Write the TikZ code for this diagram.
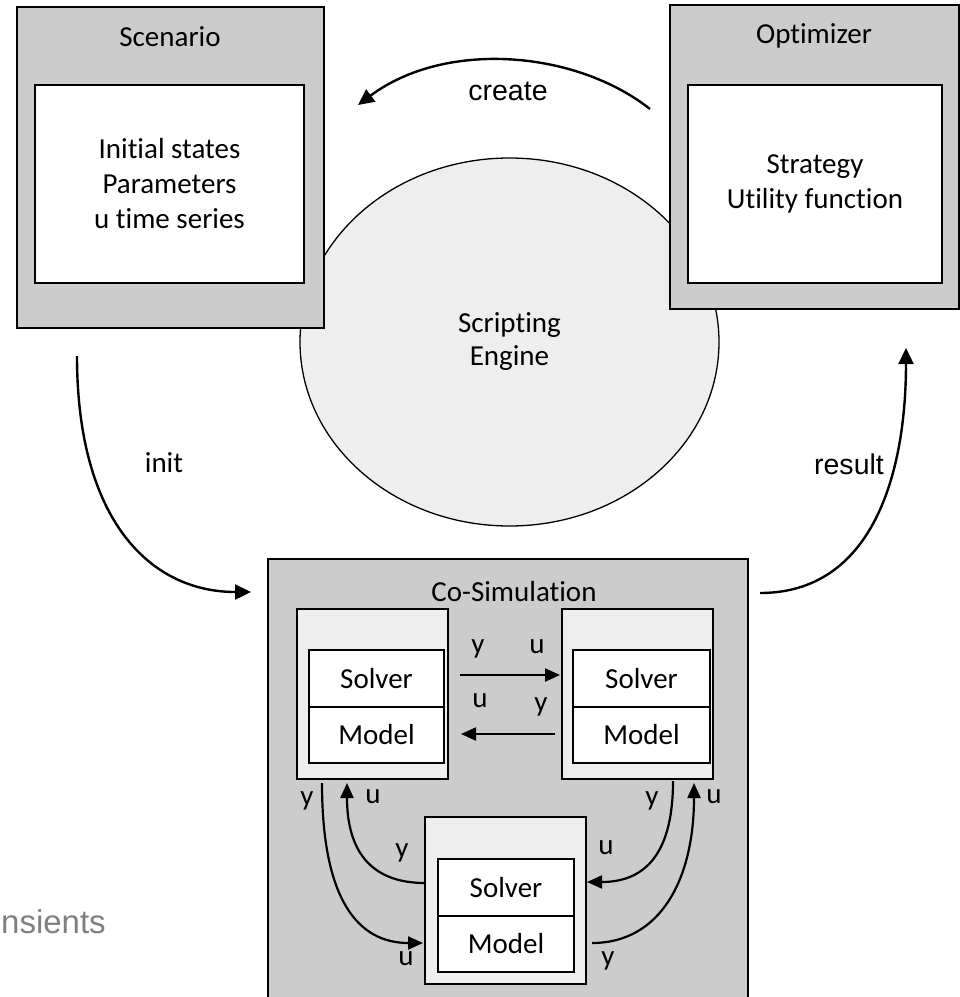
\documentclass[tikz,border=0pt]{standalone}
\usepackage{fontspec}
\setmainfont{Carlito}[Ligatures=NoCommon]
\newfontfamily\arialfont{Liberation Sans}
\usetikzlibrary{arrows.meta,shapes.geometric}

\definecolor{panelgray}{HTML}{CCCCCC}
\definecolor{palegray}{HTML}{EEEEEE}
\definecolor{notegray}{HTML}{808080}

\newcommand\bodyfont{\fontsize{29bp}{35bp}\selectfont}
\newcommand\sansbody{\arialfont\fontsize{28.5bp}{34bp}\selectfont}

\tikzset{
  panel/.style={draw, line width=1.4bp, fill=panelgray, inner sep=0pt, outer sep=0pt},
  card/.style={draw, line width=1.8bp, fill=white, inner sep=0pt, outer sep=0pt,
               align=center, font=\bodyfont},
  unitbox/.style={draw, line width=1.4bp, fill=palegray, inner sep=0pt, outer sep=0pt},
  part/.style={draw, line width=1.7bp, fill=white, inner sep=0pt, outer sep=0pt,
               font=\bodyfont},
  caption/.style={anchor=base, inner sep=0pt, font=\bodyfont},
  sanscaption/.style={anchor=base, inner sep=0pt, font=\sansbody},
  flow/.style={line width=2.4bp, -{Triangle[length=16bp,width=15bp]}},
  sig/.style={line width=2.2bp, -{Triangle[length=15bp,width=13bp]}},
}

\begin{document}
\begin{tikzpicture}[x=1bp,y=-1bp]
\useasboundingbox (0,0) rectangle (960,997);
\clip (0,0) rectangle (960,997);

% scripting engine in the middle
\node[ellipse, draw, line width=1.3bp, fill=palegray, inner sep=0pt,
      minimum width=419bp, minimum height=368bp, align=center,
      font=\fontsize{29bp}{33bp}\selectfont] (engine) at (509.5,342) {Scripting\\Engine};

% scenario
\node[panel, minimum width=307bp, minimum height=321bp] (scenario) at (170.5,167.5) {};
\node[caption] (scentitle) at (170,46) {Scenario};
\node[card, minimum width=269bp, minimum height=198bp] (scencard) at (169.5,184)
  {Initial states\\Parameters\\u time series};

% optimizer
\node[panel, minimum width=289bp, minimum height=304bp] (optimizer) at (814.5,157) {};
\node[caption] (opttitle) at (814,43) {Optimizer};
\node[card, minimum width=254bp, minimum height=198bp] (optcard) at (815,184)
  {Strategy\\Utility function};

% co-simulation
\node[panel, minimum width=480bp, minimum height=462bp] (cosim) at (508,790) {};
\node[caption] (cosimtitle) at (514,601) {Co-Simulation};

% three coupled simulation units
\node[unitbox, minimum width=151bp, minimum height=170bp] (lunit) at (372.5,694) {};
\node[part, minimum width=135bp, minimum height=57bp] (lsolver) at (376.5,678.5) {Solver};
\node[part, minimum width=135bp, minimum height=56bp] (lmodel) at (376.5,735) {Model};

\node[unitbox, minimum width=151bp, minimum height=170bp] (runit) at (637.5,694) {};
\node[part, minimum width=137bp, minimum height=57bp] (rsolver) at (641.5,678.5) {Solver};
\node[part, minimum width=137bp, minimum height=56bp] (rmodel) at (641.5,735) {Model};

\node[unitbox, minimum width=161bp, minimum height=167bp] (bunit) at (505.5,900.5) {};
\node[part, minimum width=136bp, minimum height=57bp] (bsolver) at (506,887.5) {Solver};
\node[part, minimum width=136bp, minimum height=56bp] (bmodel) at (506,944) {Model};

% end points of the outer flows
\coordinate (createA) at (650,109);
\coordinate (createB) at (358,105);
\coordinate (initA) at (77,356);
\coordinate (initB) at (251,592);
\coordinate (resultA) at (760,593);
\coordinate (resultB) at (906,348);

\draw[flow] (createA) .. controls (575,50) and (445,40) .. (createB);
\draw[flow] (initA) .. controls (77,520) and (150,592) .. (initB);
\draw[flow] (resultA) .. controls (872,593) and (906,475) .. (resultB);

\node[sanscaption] (createlbl) at (508,100) {create};
\node[caption] (initlbl) at (164,472) {init};
\node[sanscaption] (resultlbl) at (849,474) {result};

% signal exchange between the units
\coordinate (lrA) at (460,675);
\coordinate (lrB) at (560,675);
\coordinate (rlA) at (555,734);
\coordinate (rlB) at (461,734);
\draw[sig] (lrA) -- (lrB);
\draw[sig] (rlA) -- (rlB);

\coordinate (lyA) at (322,783);
\coordinate (lyB) at (423,943);
\coordinate (luA) at (425,883);
\coordinate (luB) at (347,783);
\draw[sig] (lyA) .. controls (322,900) and (358,943) .. (lyB);
\draw[sig] (luA) .. controls (370,883) and (347,850) .. (luB);

\coordinate (ryA) at (673,781);
\coordinate (ryB) at (587,882);
\coordinate (ruA) at (592,943);
\coordinate (ruB) at (694,783);
\draw[sig] (ryA) .. controls (673,860) and (640,882) .. (ryB);
\draw[sig] (ruA) .. controls (660,943) and (694,880) .. (ruB);

% signal labels
\node[caption] (t1) at (478,653) {y};
\node[caption] (t2) at (537,653) {u};
\node[caption] (t3) at (480,707) {u};
\node[caption] (t4) at (541,711) {y};
\node[caption] (t5) at (307,805) {y};
\node[caption] (t6) at (373,803) {u};
\node[caption] (t7) at (402,857) {y};
\node[caption] (t8) at (406,965) {u};
\node[caption] (t9) at (652,805) {y};
\node[caption] (t10) at (714,803) {u};
\node[caption] (t11) at (606,854) {u};
\node[caption] (t12) at (608,965) {y};

% grey text at the left edge
\node[anchor=base west, inner sep=0pt, text=notegray,
      font=\arialfont\fontsize{33bp}{40bp}\selectfont] (note) at (1,933) {nsients};
\end{tikzpicture}
\end{document}
